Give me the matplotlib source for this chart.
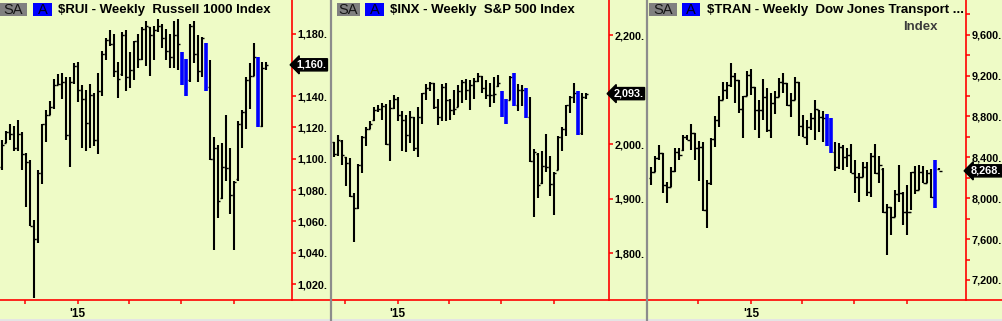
import matplotlib
matplotlib.use('Agg')
import matplotlib.pyplot as plt
import matplotlib.dates as mdates
import matplotlib.transforms as mtransforms
from matplotlib.patches import Rectangle
from matplotlib.ticker import FuncFormatter, MultipleLocator, FixedLocator
import numpy as np
import pandas as pd

plt.rcParams['font.family'] = ['Liberation Sans', 'DejaVu Sans']
plt.rcParams['font.weight'] = 'bold'

# ---- $RUI weekly bars (Friday dates) ----
rui_start = '2014-08-22'
rui_open = [1095, 1110, 1117, 1116, 1107, 1116, 1103, 1098, 1057, 1049,
            1091, 1122, 1128, 1133, 1147, 1148, 1149, 1115, 1149, 1159,
            1144, 1138, 1123, 1141, 1112, 1143, 1167, 1176, 1173, 1156,
            1154, 1179, 1152, 1157, 1175, 1164, 1183, 1184, 1179, 1182,
            1185, 1177, 1169, 1165, 1179, 1168, 1147, 1150, 1185, 1167,
            1156, 1174, 1146, 1100, 1107, 1075, 1095, 1094, 1077, 1087,
            1122, 1130, 1150, 1153, 1165, 1121, 1158]
rui_high = [1112, 1118, 1122, 1121, 1125, 1117, 1104, 1099, 1061, 1093,
            1122, 1131, 1137, 1151, 1154, 1155, 1152, 1152, 1161, 1162,
            1147, 1144, 1148, 1142, 1155, 1169, 1177, 1182, 1180, 1162,
            1181, 1182, 1168, 1175, 1180, 1184, 1188, 1184, 1185, 1189,
            1186, 1183, 1180, 1188, 1189, 1168, 1164, 1186, 1188, 1179,
            1178, 1174, 1163, 1114, 1109, 1110, 1128, 1107, 1086, 1124,
            1131, 1152, 1161, 1174, 1165, 1162, 1162]
rui_low = [1093, 1110, 1112, 1105, 1105, 1093, 1069, 1057, 1011, 1046,
           1084, 1111, 1128, 1132, 1147, 1138, 1112, 1095, 1148, 1136,
           1107, 1105, 1107, 1108, 1103, 1140, 1163, 1172, 1152, 1139,
           1153, 1143, 1145, 1150, 1158, 1163, 1159, 1153, 1163, 1181,
           1171, 1163, 1158, 1158, 1157, 1147, 1140, 1149, 1161, 1149,
           1152, 1143, 1099, 1042, 1062, 1074, 1086, 1065, 1042, 1086,
           1107, 1119, 1132, 1153, 1120, 1120, 1157]
rui_close = [1109, 1117, 1116, 1107, 1116, 1103, 1098, 1057, 1049, 1091,
             1122, 1128, 1133, 1147, 1148, 1149, 1115, 1149, 1159, 1144,
             1138, 1123, 1141, 1112, 1143, 1167, 1176, 1173, 1156, 1151,
             1179, 1152, 1157, 1175, 1164, 1183, 1185, 1179, 1182, 1185,
             1177, 1169, 1165, 1179, 1173, 1147, 1146, 1185, 1167, 1156,
             1177, 1146, 1100, 1107, 1073, 1095, 1094, 1077, 1085, 1122,
             1130, 1150, 1153, 1165, 1121, 1158, 1160]
rui_blue = [45, 46, 51, 64]

# ---- $INX weekly bars ----
inx_start = '2014-09-12'
inx_open = [2004, 1983, 2006, 1976, 1966, 1905, 1883, 1962, 2014, 2029,
            2044, 2063, 2064, 2070, 2001, 2066, 2084, 2054, 2045, 2017,
            2050, 1994, 2051, 2094, 2103, 2112, 2068, 2051, 2106, 2081,
            2063, 2069, 2098, 2115, 2100, 2109, 2117, 2125, 2103, 2090,
            2091, 2107, 2098, 2051, 2082, 2123, 2072, 2100, 2100, 2050,
            1970, 1983, 1929, 1960, 1959, 1928, 1953, 2013, 2029, 2072,
            2086, 2095, 2020, 2086]
inx_high = [2005, 2017, 2007, 1977, 1974, 1910, 1964, 2015, 2031, 2043,
            2068, 2072, 2075, 2074, 2081, 2091, 2086, 2062, 2053, 2062,
            2051, 2068, 2095, 2111, 2115, 2112, 2083, 2111, 2112, 2084,
            2100, 2108, 2118, 2120, 2118, 2121, 2131, 2125, 2118, 2112,
            2124, 2127, 2098, 2083, 2125, 2131, 2111, 2109, 2103, 2087,
            1992, 1984, 1987, 2019, 1978, 1950, 2015, 2031, 2072, 2089,
            2113, 2097, 2094, 2094]
inx_low = [1977, 1979, 1962, 1924, 1904, 1820, 1881, 1948, 1997, 2029,
           2043, 2060, 2045, 1999, 1970, 2064, 2042, 1988, 1985, 2002,
           1988, 1977, 2037, 2081, 2097, 2064, 2035, 2043, 2042, 2045,
           2054, 2068, 2075, 2081, 2063, 2083, 2115, 2095, 2083, 2069,
           2076, 2106, 2051, 2038, 2081, 2070, 2062, 2070, 2048, 1968,
           1866, 1901, 1928, 1950, 1906, 1870, 1952, 1987, 2015, 2057,
           2076, 2017, 2017, 2084]
inx_close = [1983, 2008, 1980, 1966, 1905, 1883, 1962, 2014, 2029, 2037,
             2063, 2064, 2070, 2001, 2066, 2084, 2054, 2045, 2017, 2050,
             1994, 2051, 2094, 2103, 2112, 2068, 2051, 2106, 2081, 2063,
             2064, 2098, 2115, 2100, 2109, 2117, 2125, 2103, 2090, 2091,
             2092, 2113, 2051, 2040, 2123, 2072, 2100, 2100, 2050, 1970,
             1986, 1925, 1960, 1959, 1928, 1947, 2013, 2029, 2072, 2086,
             2095, 2020, 2086, 2093]
inx_blue = [42, 43, 45, 48, 61]

# ---- $TRAN weekly bars ----
tran_start = '2014-07-11'
tran_open = [8200, 8260, 8390, 8439, 8130, 8113, 8270, 8456, 8470, 8603,
             8570, 8635, 8488, 8505, 7885, 8146, 8576, 8766, 8961, 9059,
             9108, 9196, 9157, 8870, 9000, 9206, 9092, 8863, 8863, 8987,
             8668, 8928, 8994, 9140, 9124, 8912, 8961, 9140, 8707, 8603,
             8700, 8781, 8860, 8798, 8781, 8520, 8450, 8309, 8505, 8407,
             8423, 8244, 8211, 8211, 8309, 8064, 8413, 8250, 8290, 7869,
             7911, 7820, 8042, 8048, 7869, 7869, 8260, 8081, 8260, 8146,
             8244, 8016, 8290]
tran_high = [8309, 8413, 8521, 8446, 8162, 8309, 8495, 8488, 8619, 8619,
             8726, 8642, 8563, 8554, 8179, 8586, 8805, 9000, 9140, 9140,
             9320, 9229, 9157, 9000, 9248, 9261, 9092, 8961, 9163, 9075,
             9033, 9053, 9173, 9222, 9124, 9033, 9183, 9140, 8814, 8766,
             8837, 8961, 8863, 8857, 8824, 8785, 8554, 8544, 8521, 8488,
             8531, 8374, 8244, 8358, 8358, 8446, 8531, 8413, 8293, 7944,
             7918, 8081, 8325, 8064, 8130, 8260, 8316, 8325, 8316, 8277,
             8283, 8374, 8299]
tran_low = [8130, 8260, 8374, 8054, 7957, 8113, 8260, 8374, 8466, 8570,
            8472, 8374, 8172, 7878, 7706, 8130, 8504, 8700, 8961, 8968,
            9092, 8935, 8837, 8586, 9000, 9010, 8668, 8586, 8766, 8651,
            8586, 8824, 8994, 9033, 8903, 8798, 8961, 8609, 8596, 8521,
            8668, 8570, 8651, 8554, 8511, 8446, 8270, 8283, 8277, 8309,
            8244, 8055, 7967, 8211, 8022, 8016, 8237, 8146, 7859, 7445,
            7640, 7820, 7967, 7738, 7640, 7885, 8042, 8081, 8146, 8146,
            8000, 7901, 8277]
tran_close = [8260, 8390, 8439, 8130, 8113, 8270, 8456, 8423, 8603, 8570,
              8635, 8488, 8505, 7885, 8146, 8576, 8766, 8961, 9059, 9108,
              9196, 9157, 8870, 9000, 9206, 9092, 8863, 8863, 8987, 8668,
              8928, 8994, 9140, 9124, 8912, 8961, 9140, 8707, 8603, 8700,
              8781, 8870, 8798, 8781, 8520, 8450, 8309, 8505, 8407, 8423,
              8244, 8211, 8211, 8309, 8064, 8413, 8250, 8325, 7869, 7911,
              7820, 8042, 8048, 7869, 7869, 8260, 8081, 8260, 8146, 8244,
              8016, 8290, 8268]
tran_blue = [44, 45, 71]

titles = ['$RUI - Weekly  Russell 1000 Index',
          '$INX - Weekly  S&P 500 Index',
          '$TRAN - Weekly  Dow Jones Transport ...']
quarter_ticks = ['2014-10-01', '2015-01-01', '2015-04-01', '2015-07-01', '2015-10-01']
quarter_labels = ['', "'15", '', '', '']

BG = '#EEFBC6'
RED = '#FF0000'
BLUE = '#0000FF'
W, H = 1003, 321
AX_BOTTOM = 300
PX_PER_DAY = 4 / 7

fig = plt.figure(figsize=(W / 100, H / 100), dpi=100, facecolor=BG)


def px_rect(x0, y0, x1, y1):
    return [x0 / W, 1 - y1 / H, (x1 - x0) / W, (y1 - y0) / H]


def draw_panel(left, right, oct_px, ylim, start, o, h, l, c, blue, yticks, minor=None):
    ax = fig.add_axes(px_rect(left, 0, right, AX_BOTTOM))
    ax.patch.set_visible(False)
    oct1 = pd.Timestamp('2014-10-01')
    x_left = oct1 - pd.Timedelta(days=(oct_px - left) / PX_PER_DAY)
    x_right = x_left + pd.Timedelta(days=(right - left) / PX_PER_DAY)
    ax.set_xlim(mdates.date2num(x_left), mdates.date2num(x_right))
    ax.set_ylim(*ylim)

    dates = pd.date_range(start, periods=len(h), freq='7D')
    x = mdates.date2num(dates.values)
    o, h, l, c = map(np.asarray, (o, h, l, c))
    m = np.ones(len(h), bool)
    m[blue] = False
    ax.vlines(x[m], l[m], h[m], color='black', lw=1.5)
    ax.hlines(o[m], x[m] - 4, x[m], color='black', lw=1.0)
    ax.hlines(c[m], x[m], x[m] + 4, color='black', lw=1.0)
    ax.vlines(x[~m], l[~m], h[~m], color=BLUE, lw=2.6)

    for s in ('top', 'left', 'bottom'):
        ax.spines[s].set_visible(False)
    ax.spines['right'].set_color(RED)
    ax.spines['right'].set_linewidth(1.2)

    ax.yaxis.tick_right()
    ax.yaxis.set_major_locator(FixedLocator(yticks))
    ax.yaxis.set_major_formatter(FuncFormatter(lambda v, p: f'{v:,.0f}.'))
    ax.tick_params(axis='y', which='major', direction='out', length=3, width=1.1,
                   color=RED, pad=1.2, labelsize=7.8, labelcolor='black')
    if minor:
        ax.yaxis.set_minor_locator(MultipleLocator(minor))
        ax.tick_params(axis='y', which='minor', direction='out', length=3,
                       width=1.1, color=RED)

    ax.set_xticks(mdates.date2num(pd.to_datetime(quarter_ticks).values))
    ax.set_xticklabels(quarter_labels)
    ax.tick_params(axis='x', direction='out', length=3, width=1.1, color=RED,
                   pad=3, labelsize=8.5, labelcolor='black')

    tr = mtransforms.blended_transform_factory(ax.transAxes, ax.transData)
    tr = tr + mtransforms.ScaledTranslation(4.5 / 100, 0, fig.dpi_scale_trans)
    ax.text(1.0, c[-1], f'{c[-1]:,.0f}.', transform=tr, ha='left', va='center',
            color='white', fontsize=7.8, clip_on=False, zorder=10,
            bbox=dict(boxstyle='larrow,pad=0.1', fc='black', ec='black'))
    return ax


draw_panel(0, 292, 25, (1009.8, 1201.4), rui_start, rui_open, rui_high,
           rui_low, rui_close, rui_blue, list(range(1020, 1181, 20)))
draw_panel(332, 609, 345, (1714.3, 2264.8), inx_start, inx_open, inx_high,
           inx_low, inx_close, inx_blue, [1800, 1900, 2000, 2200])
draw_panel(648, 966, 698.3, (7004.2, 9939.5), tran_start, tran_open, tran_high,
           tran_low, tran_close, tran_blue, list(range(7200, 9601, 400)), minor=200)

# overlay in pixel coordinates: headers, borders, baseline
ov = fig.add_axes([0, 0, 1, 1], zorder=20)
ov.set_xlim(0, W)
ov.set_ylim(H, 0)
ov.axis('off')
ov.patch.set_visible(False)

for x0, x1 in [(0, 331), (332, 647), (648, W)]:
    ov.plot([x0, x1], [AX_BOTTOM, AX_BOTTOM], color=RED, lw=1.2)
for xb in (331.5, 647):
    ov.plot([xb, xb], [0, H], color='#8C8C8C', lw=1.6)
ov.add_patch(Rectangle((0, 318.5), W, 3, fc='#E4E4E4', ec='none'))

headers = [(0, 27, 33, 52, 58), (337, 360, 365, 384, 390), (649, 677, 682, 700, 707)]
for (sa0, sa1, a0, a1, tx), title in zip(headers, titles):
    ov.add_patch(Rectangle((sa0, 3), sa1 - sa0, 13, fc='#808080', ec='none'))
    ov.text((sa0 + sa1) / 2, 9.8, 'SA', ha='center', va='center', fontsize=10.5,
            fontweight='normal', color='#151515')
    ov.add_patch(Rectangle((a0, 3), a1 - a0, 13, fc=BLUE, ec='none'))
    ov.text((a0 + a1) / 2, 9.8, 'A', ha='center', va='center', fontsize=10.5,
            fontweight='normal', color='#000022')
    ov.text(tx, 9.8, title, ha='left', va='center', fontsize=9.5, color='black')
ov.text(938, 27.5, 'Index', ha='right', va='center', fontsize=9.5, color='#3C3C3C')

fig.savefig('out.png', dpi=100, facecolor=BG)
